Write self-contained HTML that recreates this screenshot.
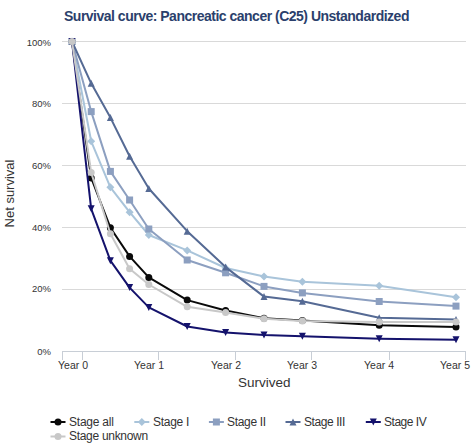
<!DOCTYPE html>
<html><head><meta charset="utf-8"><style>
html,body{margin:0;padding:0;background:#fff;}
body{width:474px;height:445px;position:relative;overflow:hidden;font-family:"Liberation Sans",sans-serif;}
.t{position:absolute;white-space:nowrap;line-height:1;}
svg{position:absolute;left:0;top:0;}
</style></head><body>
<svg width="474" height="445">
<line x1="62" y1="41.5" x2="466" y2="41.5" stroke="#d9d9d9" stroke-width="1"/>
<line x1="62" y1="103.5" x2="466" y2="103.5" stroke="#d9d9d9" stroke-width="1"/>
<line x1="62" y1="165.5" x2="466" y2="165.5" stroke="#d9d9d9" stroke-width="1"/>
<line x1="62" y1="227.5" x2="466" y2="227.5" stroke="#d9d9d9" stroke-width="1"/>
<line x1="62" y1="289.5" x2="466" y2="289.5" stroke="#d9d9d9" stroke-width="1"/>
<line x1="62" y1="351.5" x2="466" y2="351.5" stroke="#c8ced6" stroke-width="1"/>
<line x1="62.5" y1="351" x2="62.5" y2="360" stroke="#c8ced6" stroke-width="1"/>
<line x1="82.5" y1="351" x2="82.5" y2="360" stroke="#c8ced6" stroke-width="1"/>
<line x1="158.5" y1="351" x2="158.5" y2="360" stroke="#c8ced6" stroke-width="1"/>
<line x1="235.5" y1="351" x2="235.5" y2="360" stroke="#c8ced6" stroke-width="1"/>
<line x1="311.5" y1="351" x2="311.5" y2="360" stroke="#c8ced6" stroke-width="1"/>
<line x1="389.5" y1="351" x2="389.5" y2="360" stroke="#c8ced6" stroke-width="1"/>
<line x1="465.5" y1="351" x2="465.5" y2="360" stroke="#c8ced6" stroke-width="1"/>
<polyline points="72,41.5 91.2,178 110.4,227.7 129.6,256.4 148.8,277.4 187.2,300.1 225.6,310.5 264,318.2 302.4,320.4 379.2,325.3 456,327.1" fill="none" stroke="#0a0a0a" stroke-width="2" stroke-linejoin="round"/>
<circle cx="72" cy="41.5" r="3.5" fill="#0a0a0a"/>
<circle cx="91.2" cy="178" r="3.5" fill="#0a0a0a"/>
<circle cx="110.4" cy="227.7" r="3.5" fill="#0a0a0a"/>
<circle cx="129.6" cy="256.4" r="3.5" fill="#0a0a0a"/>
<circle cx="148.8" cy="277.4" r="3.5" fill="#0a0a0a"/>
<circle cx="187.2" cy="300.1" r="3.5" fill="#0a0a0a"/>
<circle cx="225.6" cy="310.5" r="3.5" fill="#0a0a0a"/>
<circle cx="264" cy="318.2" r="3.5" fill="#0a0a0a"/>
<circle cx="302.4" cy="320.4" r="3.5" fill="#0a0a0a"/>
<circle cx="379.2" cy="325.3" r="3.5" fill="#0a0a0a"/>
<circle cx="456" cy="327.1" r="3.5" fill="#0a0a0a"/>
<polyline points="72,41.5 91.2,141.3 110.4,187.3 129.6,212.2 148.8,235 187.2,250.4 225.6,268 264,276.4 302.4,281.8 379.2,285.8 456,297.2" fill="none" stroke="#a9c4da" stroke-width="2" stroke-linejoin="round"/>
<path d="M72 37.5L76.0 41.5L72 45.5L68.0 41.5Z" fill="#a9c4da"/>
<path d="M91.2 137.3L95.2 141.3L91.2 145.3L87.2 141.3Z" fill="#a9c4da"/>
<path d="M110.4 183.3L114.4 187.3L110.4 191.3L106.4 187.3Z" fill="#a9c4da"/>
<path d="M129.6 208.2L133.6 212.2L129.6 216.2L125.6 212.2Z" fill="#a9c4da"/>
<path d="M148.8 231.0L152.8 235L148.8 239.0L144.8 235Z" fill="#a9c4da"/>
<path d="M187.2 246.4L191.2 250.4L187.2 254.4L183.2 250.4Z" fill="#a9c4da"/>
<path d="M225.6 264.0L229.6 268L225.6 272.0L221.6 268Z" fill="#a9c4da"/>
<path d="M264 272.4L268.0 276.4L264 280.4L260.0 276.4Z" fill="#a9c4da"/>
<path d="M302.4 277.8L306.4 281.8L302.4 285.8L298.4 281.8Z" fill="#a9c4da"/>
<path d="M379.2 281.8L383.2 285.8L379.2 289.8L375.2 285.8Z" fill="#a9c4da"/>
<path d="M456 293.2L460.0 297.2L456 301.2L452.0 297.2Z" fill="#a9c4da"/>
<polyline points="72,41.5 91.2,111.6 110.4,171.4 129.6,200 148.8,229 187.2,260 225.6,272.8 264,286.4 302.4,292.9 379.2,301.5 456,306.1" fill="none" stroke="#8c9fc0" stroke-width="2" stroke-linejoin="round"/>
<rect x="68.5" y="38.0" width="7.0" height="7.0" fill="#8c9fc0"/>
<rect x="87.7" y="108.1" width="7.0" height="7.0" fill="#8c9fc0"/>
<rect x="106.9" y="167.9" width="7.0" height="7.0" fill="#8c9fc0"/>
<rect x="126.1" y="196.5" width="7.0" height="7.0" fill="#8c9fc0"/>
<rect x="145.3" y="225.5" width="7.0" height="7.0" fill="#8c9fc0"/>
<rect x="183.7" y="256.5" width="7.0" height="7.0" fill="#8c9fc0"/>
<rect x="222.1" y="269.3" width="7.0" height="7.0" fill="#8c9fc0"/>
<rect x="260.5" y="282.9" width="7.0" height="7.0" fill="#8c9fc0"/>
<rect x="298.9" y="289.4" width="7.0" height="7.0" fill="#8c9fc0"/>
<rect x="375.7" y="298.0" width="7.0" height="7.0" fill="#8c9fc0"/>
<rect x="452.5" y="302.6" width="7.0" height="7.0" fill="#8c9fc0"/>
<polyline points="72,41.5 91.2,83.3 110.4,117.6 129.6,156.2 148.8,188.5 187.2,231.2 225.6,267.1 264,296.6 302.4,301.2 379.2,317.7 456,319.5" fill="none" stroke="#556a94" stroke-width="2" stroke-linejoin="round"/>
<path d="M72 38.0L75.5 45.0L68.5 45.0Z" fill="#556a94"/>
<path d="M91.2 79.8L94.7 86.8L87.7 86.8Z" fill="#556a94"/>
<path d="M110.4 114.1L113.9 121.1L106.9 121.1Z" fill="#556a94"/>
<path d="M129.6 152.7L133.1 159.7L126.1 159.7Z" fill="#556a94"/>
<path d="M148.8 185.0L152.3 192.0L145.3 192.0Z" fill="#556a94"/>
<path d="M187.2 227.7L190.7 234.7L183.7 234.7Z" fill="#556a94"/>
<path d="M225.6 263.6L229.1 270.6L222.1 270.6Z" fill="#556a94"/>
<path d="M264 293.1L267.5 300.1L260.5 300.1Z" fill="#556a94"/>
<path d="M302.4 297.7L305.9 304.7L298.9 304.7Z" fill="#556a94"/>
<path d="M379.2 314.2L382.7 321.2L375.7 321.2Z" fill="#556a94"/>
<path d="M456 316.0L459.5 323.0L452.5 323.0Z" fill="#556a94"/>
<polyline points="72,41.5 91.2,208.8 110.4,260.7 129.6,287.6 148.8,307.4 187.2,326.5 225.6,332.5 264,334.9 302.4,336.3 379.2,338.8 456,339.8" fill="none" stroke="#14126c" stroke-width="2" stroke-linejoin="round"/>
<path d="M68.5 38.0L75.5 38.0L72 45.0Z" fill="#14126c"/>
<path d="M87.7 205.3L94.7 205.3L91.2 212.3Z" fill="#14126c"/>
<path d="M106.9 257.2L113.9 257.2L110.4 264.2Z" fill="#14126c"/>
<path d="M126.1 284.1L133.1 284.1L129.6 291.1Z" fill="#14126c"/>
<path d="M145.3 303.9L152.3 303.9L148.8 310.9Z" fill="#14126c"/>
<path d="M183.7 323.0L190.7 323.0L187.2 330.0Z" fill="#14126c"/>
<path d="M222.1 329.0L229.1 329.0L225.6 336.0Z" fill="#14126c"/>
<path d="M260.5 331.4L267.5 331.4L264 338.4Z" fill="#14126c"/>
<path d="M298.9 332.8L305.9 332.8L302.4 339.8Z" fill="#14126c"/>
<path d="M375.7 335.3L382.7 335.3L379.2 342.3Z" fill="#14126c"/>
<path d="M452.5 336.3L459.5 336.3L456 343.3Z" fill="#14126c"/>
<polyline points="72,41.5 91.2,172.6 110.4,233.8 129.6,268.7 148.8,284.5 187.2,306.8 225.6,312.5 264,318.7 302.4,320.9 379.2,322 456,322" fill="none" stroke="#c8c8c8" stroke-width="2" stroke-linejoin="round"/>
<circle cx="72" cy="41.5" r="3.5" fill="#c8c8c8"/>
<circle cx="91.2" cy="172.6" r="3.5" fill="#c8c8c8"/>
<circle cx="110.4" cy="233.8" r="3.5" fill="#c8c8c8"/>
<circle cx="129.6" cy="268.7" r="3.5" fill="#c8c8c8"/>
<circle cx="148.8" cy="284.5" r="3.5" fill="#c8c8c8"/>
<circle cx="187.2" cy="306.8" r="3.5" fill="#c8c8c8"/>
<circle cx="225.6" cy="312.5" r="3.5" fill="#c8c8c8"/>
<circle cx="264" cy="318.7" r="3.5" fill="#c8c8c8"/>
<circle cx="302.4" cy="320.9" r="3.5" fill="#c8c8c8"/>
<circle cx="379.2" cy="322" r="3.5" fill="#c8c8c8"/>
<circle cx="456" cy="322" r="3.5" fill="#c8c8c8"/>
<line x1="50.5" y1="422" x2="65.5" y2="422" stroke="#0a0a0a" stroke-width="2"/>
<circle cx="58.0" cy="422" r="3.5" fill="#0a0a0a"/>
<line x1="134.3" y1="422" x2="149.3" y2="422" stroke="#a9c4da" stroke-width="2"/>
<path d="M141.8 418.0L145.8 422L141.8 426.0L137.8 422Z" fill="#a9c4da"/>
<line x1="208.9" y1="422" x2="223.9" y2="422" stroke="#8c9fc0" stroke-width="2"/>
<rect x="212.9" y="418.5" width="7.0" height="7.0" fill="#8c9fc0"/>
<line x1="285.5" y1="422" x2="300.5" y2="422" stroke="#556a94" stroke-width="2"/>
<path d="M293.0 418.5L296.5 425.5L289.5 425.5Z" fill="#556a94"/>
<line x1="365.8" y1="422" x2="380.8" y2="422" stroke="#14126c" stroke-width="2"/>
<path d="M369.8 418.5L376.8 418.5L373.3 425.5Z" fill="#14126c"/>
<line x1="50.5" y1="436.5" x2="65.5" y2="436.5" stroke="#c8c8c8" stroke-width="2"/>
<circle cx="58.0" cy="436.5" r="3.5" fill="#c8c8c8"/>
</svg>
<div class="t" id="title" style="left:64px;top:9px;font-size:14px;font-weight:bold;color:#2b3f6c;letter-spacing:-0.5px;">Survival curve: Pancreatic cancer (C25) Unstandardized</div>
<div class="t" style="right:423px;top:37.9px;font-size:9.5px;color:#333;">100%</div>
<div class="t" style="right:423px;top:99.4px;font-size:9.5px;color:#333;">80%</div>
<div class="t" style="right:423px;top:160.9px;font-size:9.5px;color:#333;">60%</div>
<div class="t" style="right:423px;top:222.9px;font-size:9.5px;color:#333;">40%</div>
<div class="t" style="right:423px;top:284.4px;font-size:9.5px;color:#333;">20%</div>
<div class="t" style="right:423px;top:346.9px;font-size:9.5px;color:#333;">0%</div>
<div class="t" style="left:-24.5px;top:187px;font-size:13px;color:#333;transform:rotate(-90deg);">Net survival</div>
<div class="t" style="left:58px;top:360px;font-size:10.5px;color:#333;">Year 0</div>
<div class="t" style="left:134px;top:360px;font-size:10.5px;color:#333;">Year 1</div>
<div class="t" style="left:211px;top:360px;font-size:10.5px;color:#333;">Year 2</div>
<div class="t" style="left:287px;top:360px;font-size:10.5px;color:#333;">Year 3</div>
<div class="t" style="left:364px;top:360px;font-size:10.5px;color:#333;">Year 4</div>
<div class="t" style="left:440px;top:360px;font-size:10.5px;color:#333;">Year 5</div>
<div class="t" style="left:238px;top:376px;font-size:13.5px;color:#333;">Survived</div>
<div class="t" style="left:69px;top:416px;font-size:12px;color:#333;letter-spacing:-0.22px;">Stage all</div>
<div class="t" style="left:153px;top:416px;font-size:12px;color:#333;letter-spacing:-0.27px;">Stage I</div>
<div class="t" style="left:227px;top:416px;font-size:12px;color:#333;letter-spacing:-0.31px;">Stage II</div>
<div class="t" style="left:304px;top:416px;font-size:12px;color:#333;letter-spacing:-0.42px;">Stage III</div>
<div class="t" style="left:384px;top:416px;font-size:12px;color:#333;letter-spacing:-0.47px;">Stage IV</div>
<div class="t" style="left:69px;top:430px;font-size:12px;color:#333;letter-spacing:-0.3px;">Stage unknown</div>
</body></html>
